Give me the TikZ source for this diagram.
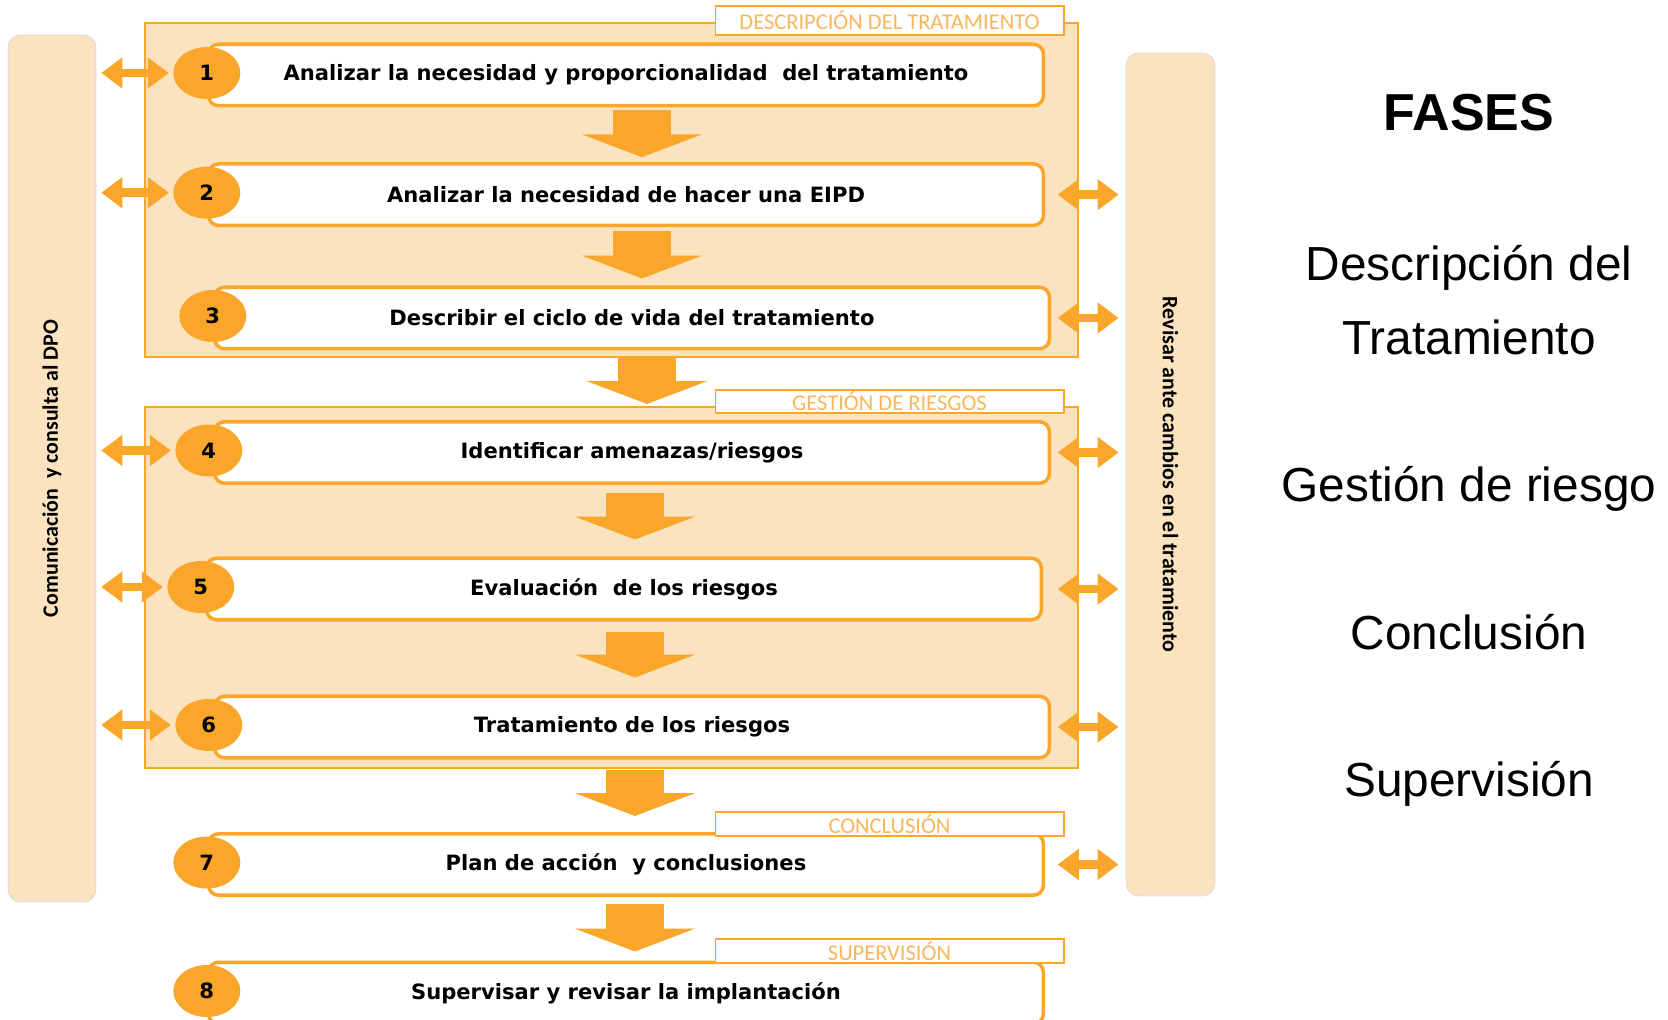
\documentclass[tikz,border=0pt]{standalone}
\usepackage{fontspec}
\setmainfont{DejaVu Sans}
\newfontfamily\calibfont{Carlito}
\newfontfamily\arialfont{Liberation Sans}
\usetikzlibrary{shapes.geometric,arrows.meta,calc}
\definecolor{naranja}{RGB}{249,166,43}
\definecolor{crema}{RGB}{252,227,191}
\definecolor{rotulo}{RGB}{250,182,92}

\begin{document}
\begin{tikzpicture}[x=0.02cm,y=-0.02cm,
    paso/.style={draw=naranja,line width=2pt,rounded corners=0.2cm,fill=white,minimum width=16.7cm,minimum height=1.23cm,inner sep=0pt,font=\bfseries\fontsize{12}{14}\selectfont},
    num/.style={ellipse,fill=naranja,minimum width=1.34cm,minimum height=1.04cm,inner sep=0pt,font=\bfseries\fontsize{12}{14}\selectfont},
    fase/.style={draw=naranja,line width=1pt,fill=crema},
    rotulo/.style={draw=naranja,line width=0.6pt,fill=white,text=rotulo,minimum width=6.98cm,inner sep=0pt,font=\calibfont\fontsize{12.8}{14}\selectfont},
    lateral/.style={fill=crema,draw=black!15,line width=0.4pt,rounded corners=0.25cm,inner sep=0pt},
    ladotxt/.style={font=\calibfont\bfseries\fontsize{12.5}{15}\selectfont},
    bajar/.style={draw=naranja,line width=33pt,-{Triangle[width=68pt,length=13pt]}},
    doble/.style={draw=naranja,line width=5pt,{Triangle[width=17pt,length=12pt]}-{Triangle[width=17pt,length=12pt]}},
    titulo/.style={anchor=base,font=\arialfont\fontsize{27.2}{30}\selectfont}]

    \useasboundingbox (0,0) rectangle (1668,1020);

    % paneles laterales
    \node[lateral,minimum width=1.76cm,minimum height=17.34cm] (dpo) at (52,468.5) {};
    \node[ladotxt,rotate=90] (dpotxt) at (dpo) {Comunicación\ \ y consulta al DPO};
    \node[lateral,minimum width=1.78cm,minimum height=16.86cm] (rev) at (1170.5,474.5) {};
    \node[ladotxt,rotate=-90] (revtxt) at (rev) {Revisar ante cambios en el tratamiento};

    % fases
    \draw[fase] (145,23) rectangle (1078,357);
    \draw[fase] (145,407) rectangle (1078,768);

    % pasos
    \node[paso] (p1) at (626,75) {Analizar la necesidad y proporcionalidad\ \ del tratamiento};
    \node[paso] (p2) at (626,194.7) {Analizar la necesidad de hacer una EIPD};
    \node[paso] (p3) at (632,318) {Describir el ciclo de vida del tratamiento};
    \node[paso] (p4) at (632,452.5) {Identificar amenazas/riesgos};
    \node[paso] (p5) at (624,589) {Evaluación\ \ de los riesgos};
    \node[paso] (p6) at (632,727) {Tratamiento de los riesgos};
    \node[paso] (p7) at (626,864.5) {Plan de acción\ \ y conclusiones};
    \node[paso] (p8) at (626,993) {Supervisar y revisar la implantación};

    \foreach \i/\dx in {1/0,2/0,3/0,4/-4,5/-4,6/-4,7/0,8/0}
        \node[num] (n\i) at ($(p\i.west)+(\dx,-2)$) {\i};

    % rotulos
    \node[rotulo,minimum height=0.58cm] (r1) at (889.5,20.5) {DESCRIPCIÓN DEL TRATAMIENTO};
    \node[rotulo,minimum height=0.46cm] (r2) at (889.5,401.5) {GESTIÓN DE RIESGOS};
    \node[rotulo,minimum height=0.48cm] (r3) at (889.5,824) {CONCLUSIÓN};
    \node[rotulo,minimum height=0.48cm] (r4) at (889.5,951) {SUPERVISIÓN};

    % flechas
    \draw[bajar] ($(p1.south)+(16,3)$) -- ($(p2.north)+(16,-5)$);
    \draw[bajar] ($(p2.south)+(16,4)$) -- ($(p3.north)+(10,-7)$);
    \draw[bajar] ($(p3.south)+(15,8)$) -- ($(p4.north)+(15,-16)$);
    \draw[bajar] ($(p4.south)+(3,8)$) -- ($(p5.north)+(11,-17)$);
    \draw[bajar] ($(p5.south)+(11,10)$) -- ($(p6.north)+(3,-17)$);
    \draw[bajar] ($(p6.south)+(3,10)$) -- ($(p7.north)+(9,-16)$);
    \draw[bajar] ($(p7.south)+(9,7)$) -- ($(p8.north)+(9,-9)$);

    \foreach \i in {1,2,4,5,6}
        \draw[doble,shorten <=2.8pt,shorten >=2.3pt] (dpo.east |- n\i) -- (n\i.west);
    \foreach \i in {2,3,4,5,6,7}
        \draw[doble,shorten <=4pt,shorten >=4pt] ($(rev.west |- p\i)+(-75,0)$) -- (rev.west |- p\i);

    % fases a la derecha
    \node[titulo,font=\arialfont\bfseries\fontsize{29.6}{32}\selectfont] (fases) at (1469,131) {FASES};
    \node[titulo] (f1a) at (1469,281) {Descripción del};
    \node[titulo] (f1b) at (1469,355) {Tratamiento};
    \node[titulo] (f2) at (1469,502) {Gestión de riesgo};
    \node[titulo] (f3) at (1469,649) {Conclusión};
    \node[titulo] (f4) at (1469,796) {Supervisión};
\end{tikzpicture}
\end{document}
